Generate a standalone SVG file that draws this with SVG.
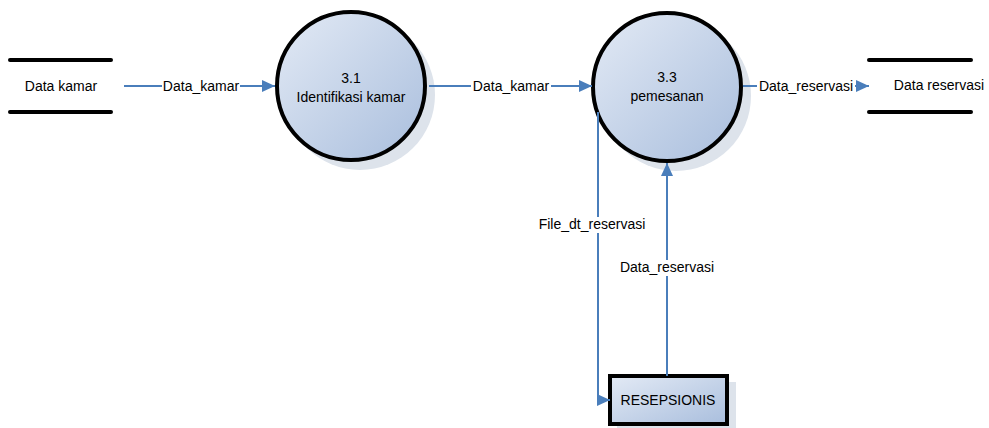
<svg xmlns="http://www.w3.org/2000/svg" width="989" height="428" viewBox="0 0 989 428">
  <defs>
    <linearGradient id="fillGrad" x1="0" y1="0" x2="1" y2="1">
      <stop offset="0" stop-color="#e3eaf5"/>
      <stop offset="1" stop-color="#a9bedd"/>
    </linearGradient>
    <marker id="arrow" viewBox="0 0 13 12" refX="13" refY="6" markerWidth="13" markerHeight="12" markerUnits="userSpaceOnUse" orient="auto">
      <path d="M0,0 L13,6 L0,12 Z" fill="#4a7ebb"/>
    </marker>
    <style>
      .txt { font-family: "Liberation Sans", Arial, sans-serif; font-size: 14px; fill: #000; text-anchor: middle; }
      .flow { fill: none; stroke: #4a7ebb; stroke-width: 2; }
      .shape { fill: url(#fillGrad); stroke: #000; stroke-width: 4; }
      .shadow { fill: #dde3eb; }
      .store { stroke: #000; stroke-width: 4; stroke-linecap: round; }
      .lblbg { fill: #fff; }
    </style>
  </defs>

  <rect width="989" height="428" fill="#fff"/>

  <!-- data stores -->
  <g id="store-data-kamar">
    <line class="store" x1="10" y1="60" x2="111" y2="60"/>
    <line class="store" x1="10" y1="112" x2="111" y2="112"/>
    <text class="txt" x="61" y="91">Data kamar</text>
  </g>
  <g id="store-data-reservasi">
    <line class="store" x1="869" y1="60" x2="971" y2="60"/>
    <line class="store" x1="869" y1="112" x2="971" y2="112"/>
    <text class="txt" x="939" y="90">Data reservasi</text>
  </g>

  <!-- processes -->
  <g id="proc-3-1">
    <circle class="shadow" cx="360" cy="95" r="75"/>
    <circle class="shape" cx="351" cy="86" r="74"/>
    <text class="txt" x="351" y="83">3.1</text>
    <text class="txt" x="351" y="102">Identifikasi kamar</text>
  </g>
  <g id="proc-3-3">
    <circle class="shadow" cx="676" cy="96" r="75"/>
    <circle class="shape" cx="667" cy="87" r="74"/>
    <text class="txt" x="667" y="82">3.3</text>
    <text class="txt" x="667" y="101">pemesanan</text>
  </g>

  <!-- external entity -->
  <g id="entity-resepsionis">
    <rect class="shadow" x="617" y="382" width="119" height="46"/>
    <rect class="shape" x="610" y="376" width="117" height="48"/>
    <text class="txt" x="668" y="405">RESEPSIONIS</text>
  </g>

  <!-- data flows -->
  <g id="connectors">
    <line class="flow" x1="124" y1="86" x2="275" y2="86" marker-end="url(#arrow)"/>
    <rect class="lblbg" x="162" y="78" width="78" height="16"/>
    <text class="txt" x="201" y="91">Data_kamar</text>

    <line class="flow" x1="429" y1="86" x2="592" y2="86" marker-end="url(#arrow)"/>
    <rect class="lblbg" x="471" y="78" width="80" height="16"/>
    <text class="txt" x="511" y="91">Data_kamar</text>

    <line class="flow" x1="743" y1="86" x2="869" y2="86" marker-end="url(#arrow)"/>
    <rect class="lblbg" x="757" y="78" width="98" height="16"/>
    <text class="txt" x="806" y="91">Data_reservasi</text>

    <polyline class="flow" points="598,112 598,400 610,400" marker-end="url(#arrow)"/>
    <rect class="lblbg" x="537" y="217" width="110" height="16"/>
    <text class="txt" x="592" y="229">File_dt_reservasi</text>

    <line class="flow" x1="667" y1="376" x2="667" y2="163" marker-end="url(#arrow)"/>
    <rect class="lblbg" x="619" y="260" width="96" height="16"/>
    <text class="txt" x="667" y="272">Data_reservasi</text>
  </g>
</svg>
